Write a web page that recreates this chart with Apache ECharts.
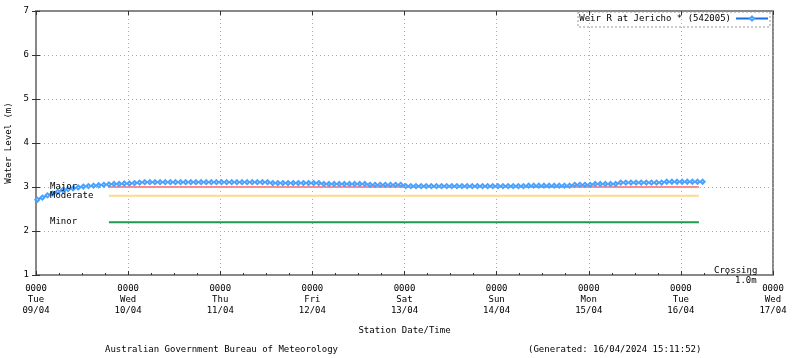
<!DOCTYPE html>
<html><head><meta charset="utf-8">
<script src="https://cdn.jsdelivr.net/npm/echarts@6/dist/echarts.min.js"></script>
<style>html,body{margin:0;padding:0;background:#fff}#c{width:800px;height:358px}</style>
</head><body><div id="c"></div>
<script>
// ---- data ----
const seriesName = 'Weir R at Jericho * (542005)';
const startHour = 0.33;          // hours after Tue 09/04 0000
const stepHours = 4 / 3;         // reading interval (80 min)
const levels = [
  2.71, 2.76, 2.81, 2.85, 2.89, 2.93, 2.95, 2.97, 2.99, 3.01, 3.02, 3.03, 3.04, 3.05, 3.06, 3.07, 3.07, 3.08, 3.08, 3.09, 3.10,
  3.11, 3.11, 3.11, 3.11, 3.11, 3.11, 3.11, 3.11, 3.11, 3.11, 3.11, 3.11, 3.11, 3.11, 3.11, 3.11, 3.11, 3.11, 3.11, 3.11, 3.11, 3.11, 3.11, 3.11, 3.11,
  3.09, 3.09, 3.09, 3.09, 3.09, 3.09, 3.09, 3.09, 3.09, 3.09,
  3.07, 3.07, 3.07, 3.07, 3.07, 3.07, 3.07, 3.07, 3.07,
  3.05, 3.05, 3.05, 3.05, 3.05, 3.05, 3.05,
  3.02, 3.02, 3.02, 3.02, 3.02, 3.02, 3.02, 3.02, 3.02, 3.02, 3.02, 3.02, 3.02, 3.02, 3.02, 3.02, 3.02, 3.02, 3.02, 3.02, 3.02, 3.02, 3.02, 3.02,
  3.03, 3.03, 3.03, 3.03, 3.03, 3.03, 3.03, 3.03, 3.03,
  3.05, 3.05, 3.05, 3.05,
  3.07, 3.07, 3.07, 3.07, 3.07,
  3.10, 3.10, 3.10, 3.10, 3.10, 3.10, 3.10, 3.10, 3.10,
  3.12, 3.12, 3.12, 3.12, 3.12, 3.12, 3.12, 3.12
];
const tickTimes = ['0000','0000','0000','0000','0000','0000','0000','0000','0000'];
const tickDays  = ['Tue','Wed','Thu','Fri','Sat','Sun','Mon','Tue','Wed'];
const tickDates = ['09/04','10/04','11/04','12/04','13/04','14/04','15/04','16/04','17/04'];
const thresholdNames  = ['Major','Moderate','Minor'];
const thresholdValues = [3.0, 2.8, 2.2];
const thresholdStartHour = 19.0;
const thresholdEndHour = 172.7;
const crossingValue = 1.0;
const yTitle = 'Water Level (m)';
const xTitle = 'Station Date/Time';
const footerLeft = 'Australian Government Bureau of Meteorology';
const footerRight = '(Generated: 16/04/2024 15:11:52)';

// ---- chart ----
const FONT = "'DejaVu Sans Mono', 'Liberation Mono', monospace";
const seriesData = levels.map((v, i) => [startHour + i * stepHours, v]);
const thresholdColors = ['#ff8a8a', '#ffd98a', '#1f9a4f'];

const chart = echarts.init(document.getElementById('c'), null, {renderer: 'canvas'});
const thresholdSeries = thresholdNames.map((n, k) => ({
  name: n, type: 'line', silent: true, symbol: 'none',
  data: [[thresholdStartHour, thresholdValues[k]], [thresholdEndHour, thresholdValues[k]]],
  lineStyle: {color: thresholdColors[k], width: 2}, z: 2
}));

chart.setOption({
  animation: false,
  grid: {left: 36, right: 27, top: 11, bottom: 83, show: true, borderColor: '#888', borderWidth: 2,
         containLabel: false, outerBoundsMode: 'none'},
  legend: {
    data: [seriesName], right: 31, top: 14, align: 'right', itemWidth: 32, itemHeight: 5, itemGap: 0,
    textStyle: {fontFamily: FONT, fontSize: 9, color: '#000'}, padding: [0, 0, 0, 0]
  },
  xAxis: [{
    type: 'value', min: 0, max: 192, interval: 24,
    name: xTitle, nameLocation: 'middle', nameGap: 51,
    nameTextStyle: {fontFamily: FONT, fontSize: 9, color: '#000'},
    axisLine: {show: true, lineStyle: {color: '#888', width: 2}},
    axisTick: {show: true, inside: true, length: 4, lineStyle: {color: '#333'}},
    minorTick: {show: true, splitNumber: 4, length: 2, lineStyle: {color: '#333'}},
    axisLabel: {
      fontFamily: FONT, fontSize: 9, color: '#000', lineHeight: 11, margin: 8,
      formatter: (v) => { const i = Math.round(v / 24); return tickTimes[i] + '\n' + tickDays[i] + '\n' + tickDates[i]; }
    },
    splitLine: {show: true, lineStyle: {color: '#aaa', type: [1, 3], width: 1}}
  }, {
    type: 'value', min: 0, max: 192, interval: 24, position: 'top',
    axisLine: {show: true, lineStyle: {color: '#888', width: 2}},
    axisTick: {show: true, inside: true, length: 4, lineStyle: {color: '#333'}},
    axisLabel: {show: false}, splitLine: {show: false}
  }],
  yAxis: [{
    type: 'value', min: 1, max: 7, interval: 1,
    name: yTitle, nameLocation: 'middle', nameGap: 23, nameRotate: 90,
    nameTextStyle: {fontFamily: FONT, fontSize: 9, color: '#000'},
    axisLine: {show: true, lineStyle: {color: '#888', width: 2}},
    axisTick: {show: true, inside: true, length: 4, lineStyle: {color: '#333'}},
    axisLabel: {fontFamily: FONT, fontSize: 9, color: '#000', margin: 7},
    splitLine: {show: true, lineStyle: {color: '#aaa', type: [1, 3], width: 1}}
  }, {
    type: 'value', min: 1, max: 7, interval: 1, position: 'right',
    axisLine: {show: true, lineStyle: {color: '#888', width: 2}},
    axisTick: {show: true, inside: true, length: 4, lineStyle: {color: '#333'}},
    axisLabel: {show: false}, splitLine: {show: false}
  }],
  series: thresholdSeries.concat([{
    name: seriesName, type: 'line', data: seriesData, z: 5,
    symbol: 'emptyDiamond', symbolSize: 4, showAllSymbol: true,
    lineStyle: {color: '#1a6fe8', width: 1.2},
    itemStyle: {color: '#4aa2ff', borderWidth: 1}
  }])
});

// ---- annotations placed through the axis scales ----
const leftX = chart.convertToPixel({xAxisIndex: 0}, 0);
const rightX = chart.convertToPixel({xAxisIndex: 0}, 192);
const graphics = thresholdNames.map((n, k) => ({
  type: 'text', left: leftX + 14, top: chart.convertToPixel({yAxisIndex: 0}, thresholdValues[k]) - 5,
  style: {text: n, font: '9px ' + FONT, fill: '#000'}, z: 10
}));
const crossY = chart.convertToPixel({yAxisIndex: 0}, crossingValue);
graphics.push({type: 'text', left: rightX - 59, top: crossY - 9, style: {text: 'Crossing', font: '9px ' + FONT, fill: '#000'}, z: 10});
graphics.push({type: 'text', left: rightX - 38, top: crossY + 1, style: {text: '1.0m', font: '9px ' + FONT, fill: '#000'}, z: 10});
graphics.push({type: 'rect', shape: {x: 578, y: 12, width: 192, height: 15}, style: {fill: 'none', stroke: '#999', lineDash: [2, 2], lineWidth: 1}, z: 10});
graphics.push({type: 'text', left: 105, top: 345, style: {text: footerLeft, font: '9px ' + FONT, fill: '#000'}});
graphics.push({type: 'text', left: 528, top: 345, style: {text: footerRight, font: '9px ' + FONT, fill: '#000'}});
chart.setOption({graphic: graphics});
</script></body></html>
